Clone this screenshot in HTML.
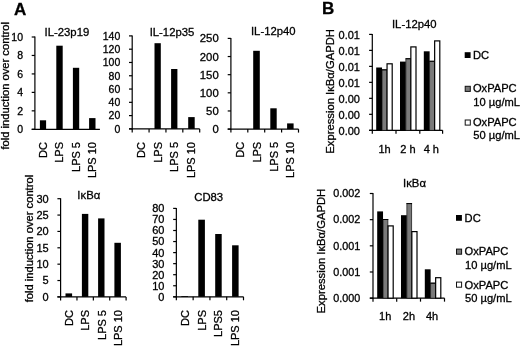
<!DOCTYPE html>
<html><head><meta charset="utf-8"><title>Figure</title>
<style>
html,body{margin:0;padding:0;background:#fff;}
body{width:520px;height:346px;overflow:hidden;}
svg{display:block;filter:blur(0.35px);}
svg text{font-family:"Liberation Sans",sans-serif;fill:#000;stroke:#000;stroke-width:0.3px;}
</style></head><body>
<svg width="520" height="346" viewBox="0 0 520 346">
<rect x="0" y="0" width="520" height="346" fill="#fff"/>
<text x="14.00" y="14.60" font-size="17" text-anchor="start" font-weight="bold">A</text>
<text x="321.90" y="14.00" font-size="17" text-anchor="start" font-weight="bold">B</text>
<text x="9.45" y="85.80" font-size="11.2" text-anchor="middle" transform="rotate(-90 9.45 85.80)">fold induction over control</text>
<text x="33.30" y="238.60" font-size="11.2" text-anchor="middle" transform="rotate(-90 33.30 238.60)">fold induction over control</text>
<text x="334.00" y="91.35" font-size="11.25" text-anchor="middle" transform="rotate(-90 334.00 91.35)">Expression I&#954;B&#945;/GAPDH</text>
<text x="325.40" y="251.10" font-size="11.25" text-anchor="middle" transform="rotate(-90 325.40 251.10)">Expression I&#954;B&#945;/GAPDH</text>
<line x1="34.90" y1="36.50" x2="34.90" y2="129.80" stroke="#000" stroke-width="1.2"/>
<line x1="31.70" y1="129.30" x2="99.90" y2="129.30" stroke="#000" stroke-width="1.2"/>
<line x1="31.70" y1="129.30" x2="34.90" y2="129.30" stroke="#000" stroke-width="1.2"/>
<text x="23.00" y="133.06" font-size="10.5" text-anchor="end">0</text>
<line x1="31.70" y1="110.84" x2="34.90" y2="110.84" stroke="#000" stroke-width="1.2"/>
<text x="23.00" y="114.60" font-size="10.5" text-anchor="end">2</text>
<line x1="31.70" y1="92.38" x2="34.90" y2="92.38" stroke="#000" stroke-width="1.2"/>
<text x="23.00" y="96.14" font-size="10.5" text-anchor="end">4</text>
<line x1="31.70" y1="73.92" x2="34.90" y2="73.92" stroke="#000" stroke-width="1.2"/>
<text x="23.00" y="77.68" font-size="10.5" text-anchor="end">6</text>
<line x1="31.70" y1="55.46" x2="34.90" y2="55.46" stroke="#000" stroke-width="1.2"/>
<text x="23.00" y="59.22" font-size="10.5" text-anchor="end">8</text>
<line x1="31.70" y1="37.00" x2="34.90" y2="37.00" stroke="#000" stroke-width="1.2"/>
<text x="23.00" y="40.76" font-size="10.5" text-anchor="end">10</text>
<text x="66.90" y="35.75" font-size="11.3" text-anchor="middle">IL-23p19</text>
<rect x="39.90" y="120.30" width="6.20" height="9.00" fill="#000"/>
<rect x="56.30" y="45.70" width="6.40" height="83.60" fill="#000"/>
<rect x="72.90" y="67.80" width="6.30" height="61.50" fill="#000"/>
<rect x="89.10" y="118.10" width="6.40" height="11.20" fill="#000"/>
<text x="46.95" y="142.00" font-size="11" text-anchor="end" transform="rotate(-90 46.95 142.00)">DC</text>
<text x="63.45" y="142.00" font-size="11" text-anchor="end" transform="rotate(-90 63.45 142.00)">LPS</text>
<text x="79.95" y="142.00" font-size="11" text-anchor="end" transform="rotate(-90 79.95 142.00)">LPS 5</text>
<text x="96.35" y="142.00" font-size="11" text-anchor="end" transform="rotate(-90 96.35 142.00)">LPS 10</text>
<line x1="132.20" y1="35.40" x2="132.20" y2="129.40" stroke="#000" stroke-width="1.2"/>
<line x1="129.00" y1="128.90" x2="199.70" y2="128.90" stroke="#000" stroke-width="1.2"/>
<line x1="132.20" y1="128.90" x2="132.20" y2="132.40" stroke="#000" stroke-width="1.2"/>
<line x1="149.07" y1="128.90" x2="149.07" y2="132.40" stroke="#000" stroke-width="1.2"/>
<line x1="165.95" y1="128.90" x2="165.95" y2="132.40" stroke="#000" stroke-width="1.2"/>
<line x1="182.82" y1="128.90" x2="182.82" y2="132.40" stroke="#000" stroke-width="1.2"/>
<line x1="199.70" y1="128.90" x2="199.70" y2="132.40" stroke="#000" stroke-width="1.2"/>
<line x1="129.00" y1="128.90" x2="132.20" y2="128.90" stroke="#000" stroke-width="1.2"/>
<text x="120.30" y="132.66" font-size="10.5" text-anchor="end">0</text>
<line x1="129.00" y1="115.61" x2="132.20" y2="115.61" stroke="#000" stroke-width="1.2"/>
<text x="120.30" y="119.37" font-size="10.5" text-anchor="end">20</text>
<line x1="129.00" y1="102.33" x2="132.20" y2="102.33" stroke="#000" stroke-width="1.2"/>
<text x="120.30" y="106.09" font-size="10.5" text-anchor="end">40</text>
<line x1="129.00" y1="89.04" x2="132.20" y2="89.04" stroke="#000" stroke-width="1.2"/>
<text x="120.30" y="92.80" font-size="10.5" text-anchor="end">60</text>
<line x1="129.00" y1="75.76" x2="132.20" y2="75.76" stroke="#000" stroke-width="1.2"/>
<text x="120.30" y="79.52" font-size="10.5" text-anchor="end">80</text>
<line x1="129.00" y1="62.47" x2="132.20" y2="62.47" stroke="#000" stroke-width="1.2"/>
<text x="120.30" y="66.23" font-size="10.5" text-anchor="end">100</text>
<line x1="129.00" y1="49.19" x2="132.20" y2="49.19" stroke="#000" stroke-width="1.2"/>
<text x="120.30" y="52.94" font-size="10.5" text-anchor="end">120</text>
<line x1="129.00" y1="35.90" x2="132.20" y2="35.90" stroke="#000" stroke-width="1.2"/>
<text x="120.30" y="39.66" font-size="10.5" text-anchor="end">140</text>
<text x="172.00" y="35.65" font-size="11.3" text-anchor="middle">IL-12p35</text>
<rect x="154.50" y="43.20" width="6.30" height="85.70" fill="#000"/>
<rect x="171.10" y="69.00" width="6.30" height="59.90" fill="#000"/>
<rect x="188.20" y="117.10" width="6.50" height="11.80" fill="#000"/>
<text x="144.95" y="142.00" font-size="11" text-anchor="end" transform="rotate(-90 144.95 142.00)">DC</text>
<text x="161.65" y="142.00" font-size="11" text-anchor="end" transform="rotate(-90 161.65 142.00)">LPS</text>
<text x="178.25" y="142.00" font-size="11" text-anchor="end" transform="rotate(-90 178.25 142.00)">LPS 5</text>
<text x="195.05" y="142.00" font-size="11" text-anchor="end" transform="rotate(-90 195.05 142.00)">LPS 10</text>
<line x1="230.90" y1="37.90" x2="230.90" y2="129.60" stroke="#000" stroke-width="1.2"/>
<line x1="227.70" y1="129.10" x2="298.50" y2="129.10" stroke="#000" stroke-width="1.2"/>
<line x1="230.90" y1="129.10" x2="230.90" y2="132.60" stroke="#000" stroke-width="1.2"/>
<line x1="247.80" y1="129.10" x2="247.80" y2="132.60" stroke="#000" stroke-width="1.2"/>
<line x1="264.70" y1="129.10" x2="264.70" y2="132.60" stroke="#000" stroke-width="1.2"/>
<line x1="281.60" y1="129.10" x2="281.60" y2="132.60" stroke="#000" stroke-width="1.2"/>
<line x1="298.50" y1="129.10" x2="298.50" y2="132.60" stroke="#000" stroke-width="1.2"/>
<line x1="227.70" y1="129.10" x2="230.90" y2="129.10" stroke="#000" stroke-width="1.2"/>
<text x="218.70" y="133.15" font-size="11.3" text-anchor="end">0</text>
<line x1="227.70" y1="110.96" x2="230.90" y2="110.96" stroke="#000" stroke-width="1.2"/>
<text x="218.70" y="115.01" font-size="11.3" text-anchor="end">50</text>
<line x1="227.70" y1="92.82" x2="230.90" y2="92.82" stroke="#000" stroke-width="1.2"/>
<text x="218.70" y="96.87" font-size="11.3" text-anchor="end">100</text>
<line x1="227.70" y1="74.68" x2="230.90" y2="74.68" stroke="#000" stroke-width="1.2"/>
<text x="218.70" y="78.73" font-size="11.3" text-anchor="end">150</text>
<line x1="227.70" y1="56.54" x2="230.90" y2="56.54" stroke="#000" stroke-width="1.2"/>
<text x="218.70" y="60.59" font-size="11.3" text-anchor="end">200</text>
<line x1="227.70" y1="38.40" x2="230.90" y2="38.40" stroke="#000" stroke-width="1.2"/>
<text x="218.70" y="42.45" font-size="11.3" text-anchor="end">250</text>
<text x="273.30" y="35.20" font-size="11.3" text-anchor="middle">IL-12p40</text>
<rect x="253.20" y="50.80" width="6.60" height="78.30" fill="#000"/>
<rect x="270.30" y="108.30" width="6.40" height="20.80" fill="#000"/>
<rect x="287.10" y="123.40" width="6.50" height="5.70" fill="#000"/>
<text x="243.85" y="141.80" font-size="11" text-anchor="end" transform="rotate(-90 243.85 141.80)">DC</text>
<text x="260.75" y="141.80" font-size="11" text-anchor="end" transform="rotate(-90 260.75 141.80)">LPS</text>
<text x="277.55" y="141.80" font-size="11" text-anchor="end" transform="rotate(-90 277.55 141.80)">LPS 5</text>
<text x="294.15" y="141.80" font-size="11" text-anchor="end" transform="rotate(-90 294.15 141.80)">LPS 10</text>
<line x1="60.60" y1="198.20" x2="60.60" y2="297.40" stroke="#000" stroke-width="1.2"/>
<line x1="57.40" y1="296.90" x2="126.10" y2="296.90" stroke="#000" stroke-width="1.2"/>
<line x1="60.60" y1="296.90" x2="60.60" y2="300.40" stroke="#000" stroke-width="1.2"/>
<line x1="76.97" y1="296.90" x2="76.97" y2="300.40" stroke="#000" stroke-width="1.2"/>
<line x1="93.35" y1="296.90" x2="93.35" y2="300.40" stroke="#000" stroke-width="1.2"/>
<line x1="109.72" y1="296.90" x2="109.72" y2="300.40" stroke="#000" stroke-width="1.2"/>
<line x1="126.10" y1="296.90" x2="126.10" y2="300.40" stroke="#000" stroke-width="1.2"/>
<line x1="57.40" y1="296.90" x2="60.60" y2="296.90" stroke="#000" stroke-width="1.2"/>
<text x="48.70" y="300.84" font-size="11" text-anchor="end">0</text>
<line x1="57.40" y1="280.53" x2="60.60" y2="280.53" stroke="#000" stroke-width="1.2"/>
<text x="48.70" y="284.47" font-size="11" text-anchor="end">5</text>
<line x1="57.40" y1="264.17" x2="60.60" y2="264.17" stroke="#000" stroke-width="1.2"/>
<text x="48.70" y="268.10" font-size="11" text-anchor="end">10</text>
<line x1="57.40" y1="247.80" x2="60.60" y2="247.80" stroke="#000" stroke-width="1.2"/>
<text x="48.70" y="251.74" font-size="11" text-anchor="end">15</text>
<line x1="57.40" y1="231.43" x2="60.60" y2="231.43" stroke="#000" stroke-width="1.2"/>
<text x="48.70" y="235.37" font-size="11" text-anchor="end">20</text>
<line x1="57.40" y1="215.07" x2="60.60" y2="215.07" stroke="#000" stroke-width="1.2"/>
<text x="48.70" y="219.00" font-size="11" text-anchor="end">25</text>
<line x1="57.40" y1="198.70" x2="60.60" y2="198.70" stroke="#000" stroke-width="1.2"/>
<text x="48.70" y="202.64" font-size="11" text-anchor="end">30</text>
<text x="88.80" y="198.50" font-size="11.3" text-anchor="middle">I&#954;B&#945;</text>
<rect x="65.50" y="293.40" width="6.60" height="3.50" fill="#000"/>
<rect x="81.90" y="213.90" width="6.40" height="83.00" fill="#000"/>
<rect x="98.10" y="218.40" width="6.40" height="78.50" fill="#000"/>
<rect x="114.40" y="242.80" width="6.50" height="54.10" fill="#000"/>
<text x="72.70" y="310.00" font-size="11" text-anchor="end" transform="rotate(-90 72.70 310.00)">DC</text>
<text x="89.20" y="310.00" font-size="11" text-anchor="end" transform="rotate(-90 89.20 310.00)">LPS</text>
<text x="105.85" y="310.00" font-size="11" text-anchor="end" transform="rotate(-90 105.85 310.00)">LPS 5</text>
<text x="122.05" y="310.00" font-size="11" text-anchor="end" transform="rotate(-90 122.05 310.00)">LPS 10</text>
<line x1="176.35" y1="207.90" x2="176.35" y2="297.30" stroke="#000" stroke-width="1.2"/>
<line x1="173.15" y1="296.80" x2="243.50" y2="296.80" stroke="#000" stroke-width="1.2"/>
<line x1="176.35" y1="296.80" x2="176.35" y2="300.30" stroke="#000" stroke-width="1.2"/>
<line x1="193.14" y1="296.80" x2="193.14" y2="300.30" stroke="#000" stroke-width="1.2"/>
<line x1="209.93" y1="296.80" x2="209.93" y2="300.30" stroke="#000" stroke-width="1.2"/>
<line x1="226.71" y1="296.80" x2="226.71" y2="300.30" stroke="#000" stroke-width="1.2"/>
<line x1="243.50" y1="296.80" x2="243.50" y2="300.30" stroke="#000" stroke-width="1.2"/>
<line x1="173.15" y1="296.80" x2="176.35" y2="296.80" stroke="#000" stroke-width="1.2"/>
<text x="164.45" y="300.74" font-size="11" text-anchor="end">0</text>
<line x1="173.15" y1="285.75" x2="176.35" y2="285.75" stroke="#000" stroke-width="1.2"/>
<text x="164.45" y="289.69" font-size="11" text-anchor="end">10</text>
<line x1="173.15" y1="274.70" x2="176.35" y2="274.70" stroke="#000" stroke-width="1.2"/>
<text x="164.45" y="278.64" font-size="11" text-anchor="end">20</text>
<line x1="173.15" y1="263.65" x2="176.35" y2="263.65" stroke="#000" stroke-width="1.2"/>
<text x="164.45" y="267.59" font-size="11" text-anchor="end">30</text>
<line x1="173.15" y1="252.60" x2="176.35" y2="252.60" stroke="#000" stroke-width="1.2"/>
<text x="164.45" y="256.54" font-size="11" text-anchor="end">40</text>
<line x1="173.15" y1="241.55" x2="176.35" y2="241.55" stroke="#000" stroke-width="1.2"/>
<text x="164.45" y="245.49" font-size="11" text-anchor="end">50</text>
<line x1="173.15" y1="230.50" x2="176.35" y2="230.50" stroke="#000" stroke-width="1.2"/>
<text x="164.45" y="234.44" font-size="11" text-anchor="end">60</text>
<line x1="173.15" y1="219.45" x2="176.35" y2="219.45" stroke="#000" stroke-width="1.2"/>
<text x="164.45" y="223.39" font-size="11" text-anchor="end">70</text>
<line x1="173.15" y1="208.40" x2="176.35" y2="208.40" stroke="#000" stroke-width="1.2"/>
<text x="164.45" y="212.34" font-size="11" text-anchor="end">80</text>
<text x="208.70" y="200.80" font-size="11.3" text-anchor="middle">CD83</text>
<rect x="181.30" y="296.00" width="6.70" height="0.80" fill="#000"/>
<rect x="198.30" y="219.70" width="6.60" height="77.10" fill="#000"/>
<rect x="215.20" y="234.00" width="6.50" height="62.80" fill="#000"/>
<rect x="232.10" y="245.30" width="6.50" height="51.50" fill="#000"/>
<text x="188.85" y="310.00" font-size="11" text-anchor="end" transform="rotate(-90 188.85 310.00)">DC</text>
<text x="205.65" y="310.00" font-size="11" text-anchor="end" transform="rotate(-90 205.65 310.00)">LPS</text>
<text x="222.25" y="310.00" font-size="11" text-anchor="end" transform="rotate(-90 222.25 310.00)">LPS5</text>
<text x="239.15" y="310.00" font-size="11" text-anchor="end" transform="rotate(-90 239.15 310.00)">LPS 10</text>
<line x1="372.30" y1="33.90" x2="372.30" y2="130.80" stroke="#000" stroke-width="1.2"/>
<line x1="369.10" y1="130.30" x2="442.60" y2="130.30" stroke="#000" stroke-width="1.2"/>
<line x1="372.30" y1="130.30" x2="372.30" y2="133.80" stroke="#000" stroke-width="1.2"/>
<line x1="396.00" y1="130.30" x2="396.00" y2="133.80" stroke="#000" stroke-width="1.2"/>
<line x1="419.80" y1="130.30" x2="419.80" y2="133.80" stroke="#000" stroke-width="1.2"/>
<line x1="442.60" y1="130.30" x2="442.60" y2="133.80" stroke="#000" stroke-width="1.2"/>
<line x1="369.10" y1="130.30" x2="372.30" y2="130.30" stroke="#000" stroke-width="1.2"/>
<text x="360.00" y="134.60" font-size="11" text-anchor="end">0.00</text>
<line x1="369.10" y1="114.32" x2="372.30" y2="114.32" stroke="#000" stroke-width="1.2"/>
<text x="360.00" y="118.62" font-size="11" text-anchor="end">0.00</text>
<line x1="369.10" y1="98.33" x2="372.30" y2="98.33" stroke="#000" stroke-width="1.2"/>
<text x="360.00" y="102.63" font-size="11" text-anchor="end">0.00</text>
<line x1="369.10" y1="82.35" x2="372.30" y2="82.35" stroke="#000" stroke-width="1.2"/>
<text x="360.00" y="86.65" font-size="11" text-anchor="end">0.01</text>
<line x1="369.10" y1="66.37" x2="372.30" y2="66.37" stroke="#000" stroke-width="1.2"/>
<text x="360.00" y="70.67" font-size="11" text-anchor="end">0.01</text>
<line x1="369.10" y1="50.38" x2="372.30" y2="50.38" stroke="#000" stroke-width="1.2"/>
<text x="360.00" y="54.68" font-size="11" text-anchor="end">0.01</text>
<line x1="369.10" y1="34.40" x2="372.30" y2="34.40" stroke="#000" stroke-width="1.2"/>
<text x="360.00" y="38.70" font-size="11" text-anchor="end">0.01</text>
<text x="414.30" y="28.40" font-size="11.3" text-anchor="middle">IL-12p40</text>
<rect x="376.20" y="67.50" width="5.83" height="62.80" fill="#000"/>
<rect x="382.08" y="69.75" width="4.83" height="60.55" fill="#7a7a7a" stroke="#111" stroke-width="0.7"/>
<line x1="381.73" y1="69.90" x2="387.26" y2="69.90" stroke="#000" stroke-width="1.0"/>
<rect x="387.05" y="63.80" width="5.15" height="66.50" fill="#fff" stroke="#000" stroke-width="1.2"/>
<rect x="400.00" y="61.60" width="5.83" height="68.70" fill="#000"/>
<rect x="405.88" y="58.65" width="4.83" height="71.65" fill="#7a7a7a" stroke="#111" stroke-width="0.7"/>
<line x1="405.53" y1="58.80" x2="411.06" y2="58.80" stroke="#000" stroke-width="1.0"/>
<rect x="410.85" y="46.90" width="5.15" height="83.40" fill="#fff" stroke="#000" stroke-width="1.2"/>
<rect x="423.80" y="51.30" width="5.83" height="79.00" fill="#000"/>
<rect x="429.68" y="61.15" width="4.83" height="69.15" fill="#7a7a7a" stroke="#111" stroke-width="0.7"/>
<line x1="429.33" y1="61.30" x2="434.86" y2="61.30" stroke="#000" stroke-width="1.0"/>
<rect x="434.65" y="40.90" width="5.15" height="89.40" fill="#fff" stroke="#000" stroke-width="1.2"/>
<text x="384.50" y="153.20" font-size="11" text-anchor="middle">1h</text>
<text x="408.00" y="153.20" font-size="11" text-anchor="middle">2 h</text>
<text x="431.30" y="153.20" font-size="11" text-anchor="middle">4 h</text>
<line x1="373.00" y1="193.00" x2="373.00" y2="298.65" stroke="#000" stroke-width="1.2"/>
<line x1="369.80" y1="298.15" x2="444.50" y2="298.15" stroke="#000" stroke-width="1.2"/>
<line x1="373.00" y1="298.15" x2="373.00" y2="301.65" stroke="#000" stroke-width="1.2"/>
<line x1="396.70" y1="298.15" x2="396.70" y2="301.65" stroke="#000" stroke-width="1.2"/>
<line x1="420.50" y1="298.15" x2="420.50" y2="301.65" stroke="#000" stroke-width="1.2"/>
<line x1="444.50" y1="298.15" x2="444.50" y2="301.65" stroke="#000" stroke-width="1.2"/>
<line x1="369.80" y1="298.15" x2="373.00" y2="298.15" stroke="#000" stroke-width="1.2"/>
<text x="360.20" y="301.85" font-size="10.8" text-anchor="end">0.000</text>
<line x1="369.80" y1="271.99" x2="373.00" y2="271.99" stroke="#000" stroke-width="1.2"/>
<text x="360.20" y="275.69" font-size="10.8" text-anchor="end">0.001</text>
<line x1="369.80" y1="245.82" x2="373.00" y2="245.82" stroke="#000" stroke-width="1.2"/>
<text x="360.20" y="249.52" font-size="10.8" text-anchor="end">0.001</text>
<line x1="369.80" y1="219.66" x2="373.00" y2="219.66" stroke="#000" stroke-width="1.2"/>
<text x="360.20" y="223.36" font-size="10.8" text-anchor="end">0.002</text>
<line x1="369.80" y1="193.50" x2="373.00" y2="193.50" stroke="#000" stroke-width="1.2"/>
<text x="360.20" y="197.20" font-size="10.8" text-anchor="end">0.002</text>
<text x="414.50" y="187.00" font-size="11.3" text-anchor="middle">I&#954;B&#945;</text>
<rect x="377.20" y="211.40" width="5.83" height="86.75" fill="#000"/>
<rect x="383.08" y="219.35" width="4.83" height="78.80" fill="#7a7a7a" stroke="#111" stroke-width="0.7"/>
<line x1="382.73" y1="219.50" x2="388.26" y2="219.50" stroke="#000" stroke-width="1.0"/>
<rect x="388.05" y="225.90" width="5.15" height="72.25" fill="#fff" stroke="#000" stroke-width="1.2"/>
<rect x="401.00" y="215.20" width="5.83" height="82.95" fill="#000"/>
<rect x="406.88" y="203.45" width="4.83" height="94.70" fill="#7a7a7a" stroke="#111" stroke-width="0.7"/>
<line x1="406.53" y1="203.60" x2="412.06" y2="203.60" stroke="#000" stroke-width="1.0"/>
<rect x="411.85" y="231.60" width="5.15" height="66.55" fill="#fff" stroke="#000" stroke-width="1.2"/>
<rect x="424.80" y="269.30" width="5.83" height="28.85" fill="#000"/>
<rect x="430.68" y="283.05" width="4.83" height="15.10" fill="#7a7a7a" stroke="#111" stroke-width="0.7"/>
<line x1="430.33" y1="283.20" x2="435.86" y2="283.20" stroke="#000" stroke-width="1.0"/>
<rect x="435.65" y="277.70" width="5.15" height="20.45" fill="#fff" stroke="#000" stroke-width="1.2"/>
<text x="385.20" y="319.80" font-size="11" text-anchor="middle">1h</text>
<text x="408.90" y="319.80" font-size="11" text-anchor="middle">2h</text>
<text x="432.00" y="319.80" font-size="11" text-anchor="middle">4h</text>
<rect x="464.70" y="52.20" width="5.90" height="5.80" fill="#000"/>
<text x="472.90" y="58.70" font-size="11.15" text-anchor="start">DC</text>
<rect x="465.20" y="86.30" width="5.10" height="5.10" fill="#7a7a7a" stroke="#111" stroke-width="1.0"/>
<text x="472.90" y="92.40" font-size="11.15" text-anchor="start">OxPAPC</text>
<text x="473.30" y="105.60" font-size="11.15" text-anchor="start">10 &#181;g/mL</text>
<rect x="465.20" y="120.00" width="5.10" height="5.10" fill="#fff" stroke="#111" stroke-width="1.0"/>
<text x="472.90" y="126.10" font-size="11.15" text-anchor="start">OxPAPC</text>
<text x="473.30" y="138.70" font-size="11.15" text-anchor="start">50 &#181;g/mL</text>
<rect x="456.00" y="215.00" width="5.90" height="5.80" fill="#000"/>
<text x="464.60" y="221.70" font-size="11.15" text-anchor="start">DC</text>
<rect x="456.50" y="249.10" width="5.10" height="5.10" fill="#7a7a7a" stroke="#111" stroke-width="1.0"/>
<text x="464.60" y="255.40" font-size="11.15" text-anchor="start">OxPAPC</text>
<text x="465.00" y="268.80" font-size="11.15" text-anchor="start">10 &#181;g/mL</text>
<rect x="456.50" y="282.10" width="5.10" height="5.10" fill="#fff" stroke="#111" stroke-width="1.0"/>
<text x="464.60" y="288.50" font-size="11.15" text-anchor="start">OxPAPC</text>
<text x="465.00" y="301.90" font-size="11.15" text-anchor="start">50 &#181;g/mL</text>
</svg>
</body></html>
